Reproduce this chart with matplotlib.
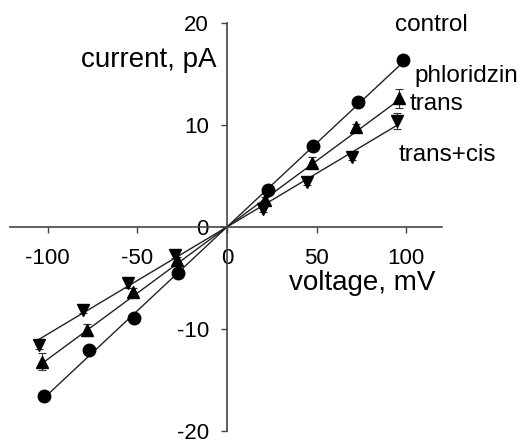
import numpy as np
import matplotlib
matplotlib.use("Agg")
import matplotlib.pyplot as plt

plt.rcParams['font.family'] = ['Liberation Sans', 'DejaVu Sans']

# voltage (mV) and current (pA) for each condition
v_control = [-102, -77, -52, -27, 23, 48, 73, 98.5]
i_control = [-16.6, -12.1, -8.9, -4.5, 3.6, 7.9, 12.3, 16.4]

v_trans = [-103, -78, -52.5, -28, 21, 47.5, 72, 96]
i_trans = [-13.2, -10.1, -6.4, -3.2, 2.6, 6.3, 9.8, 12.6]
e_trans = [0.8, 0.6, 0.4, 0.3, 0.3, 0.6, 0.3, 0.9]

v_cis = [-105, -80, -55, -29, 20, 44.5, 70, 95]
i_cis = [-11.6, -8.1, -5.5, -2.7, 1.8, 4.4, 6.9, 10.4]
e_cis = [0.4, 0.3, 0.5, 0.3, 0.3, 0.3, 0.3, 0.8]

xticks = [-100, -50, 0, 50, 100]
yticks = [-20, -10, 0, 10, 20]

fig = plt.figure(figsize=(5.24, 4.41), dpi=100)
ax = fig.add_axes([10 / 524, 10 / 441, 432 / 524, 408 / 441])

def fit_line(v, i):
    v = np.asarray(v, float)
    i = np.asarray(i, float)
    slope = np.sum(v * i) / np.sum(v * v)
    xs = np.array([v.min(), v.max()])
    return xs, slope * xs

for v, i, err, m in [(v_control, i_control, None, 'o'),
                     (v_trans, i_trans, e_trans, '^'),
                     (v_cis, i_cis, e_cis, 'v')]:
    xs, ys = fit_line(v, i)
    ax.plot(xs, ys, color='#222222', lw=1.0, zorder=2)
    if err is not None:
        ax.errorbar(v, i, yerr=err, fmt='none', ecolor='#333333',
                    elinewidth=0.8, capsize=3, capthick=0.8, zorder=3)
    ax.plot(v, i, m, color='black', ms=9 if m == 'o' else 8.5,
            ls='none', zorder=4)

ax.set_xlim(-121, 120)
ax.set_ylim(-20, 20)
ax.spines['left'].set_position(('data', 0))
ax.spines['bottom'].set_position(('data', 0))
ax.spines['right'].set_visible(False)
ax.spines['top'].set_visible(False)
for s in ['left', 'bottom']:
    ax.spines[s].set_color('#444444')
    ax.spines[s].set_linewidth(1.2)
ax.set_xticks(xticks)
ax.set_yticks(yticks)
ax.set_xticklabels([str(t) for t in xticks])
ax.set_yticklabels([str(t) for t in yticks])
ax.tick_params(direction='out', length=4, width=1, color='#444444',
               labelsize=16, pad=9)
ax.tick_params(axis='x', pad=11)

ax.text(-5.6, 16.4, 'current, pA', ha='right', va='center', fontsize=20)
ax.text(75.4, -5.5, 'voltage, mV', ha='center', va='center', fontsize=20)
ax.text(93.9, 19.8, 'control', ha='left', va='center', fontsize=17.5)
ax.text(104.5, 14.8, 'phloridzin', ha='left', va='center', fontsize=17.5)
ax.text(101.7, 12.1, 'trans', ha='left', va='center', fontsize=17.5)
ax.text(96, 7.1, 'trans+cis', ha='left', va='center', fontsize=17.5)

fig.savefig('out.png', dpi=100)
